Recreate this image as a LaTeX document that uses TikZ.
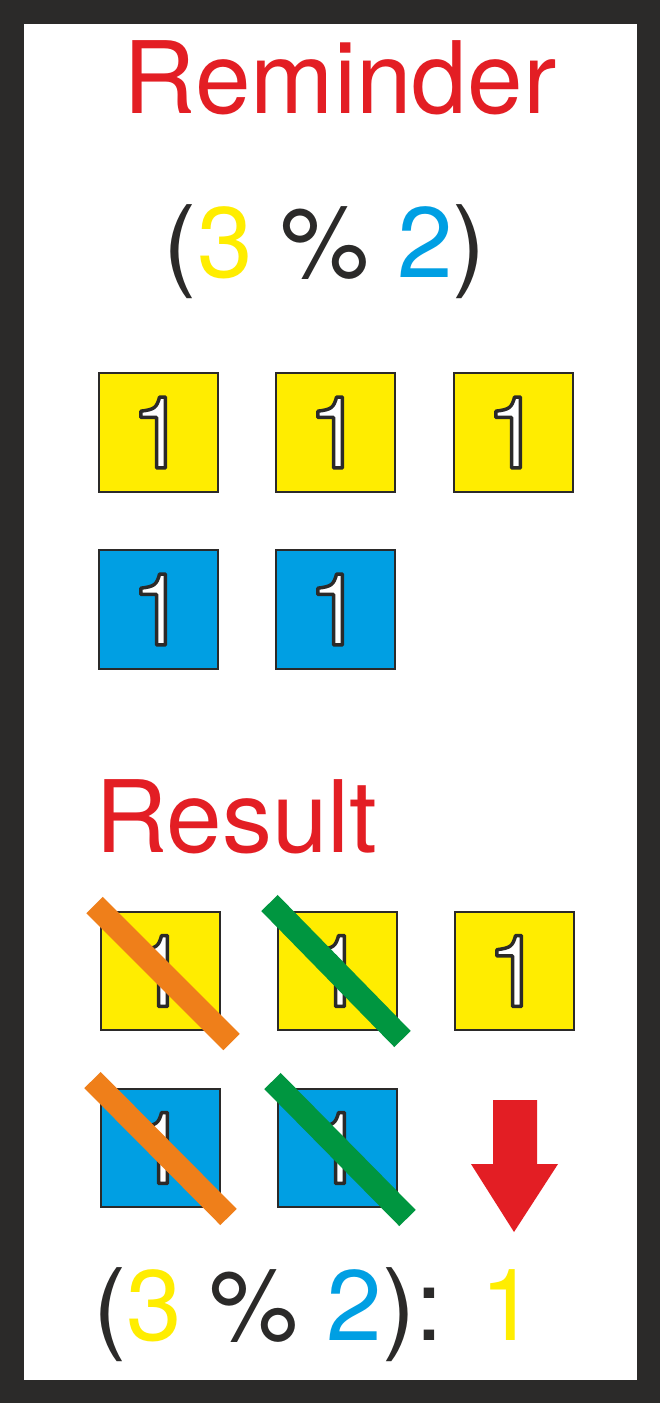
\documentclass[tikz,border=0pt]{standalone}
\usepackage{fontspec}
\setmainfont{TeX Gyre Heros}
\usepackage{tikz}
\usetikzlibrary{calc}
\definecolor{myred}{RGB}{227,30,36}
\definecolor{mydark}{RGB}{43,42,41}
\definecolor{myyellow}{RGB}{255,237,0}
\definecolor{myblue}{RGB}{0,159,227}
\definecolor{myorange}{RGB}{239,127,26}
\definecolor{mygreen}{RGB}{0,150,64}
\newcommand{\bigtext}{\fontsize{75pt}{75pt}\selectfont}
% white digit with a dark outline (text render mode 2)
\newcommand{\onedigit}{{\color{white}%
  \special{pdf:literal direct 2 Tr 2.6 w 1 j 0.169 0.165 0.161 RG}1%
  \special{pdf:literal direct 0 Tr}}}
\tikzset{
  title/.style={font=\bigtext, text=myred, inner sep=0pt},
  expr/.style={font=\bigtext, text=mydark, inner sep=0pt},
  ybox/.style={rectangle, draw=mydark, fill=myyellow, minimum size=89pt,
    inner sep=0pt, line width=1.5pt, font=\bigtext},
  bbox/.style={rectangle, draw=mydark, fill=myblue, minimum size=89pt,
    inner sep=0pt, line width=1.5pt, font=\bigtext},
  strike/.style={line width=17.25pt, line cap=butt}
}
\begin{document}
\begin{tikzpicture}[x=0.75pt, y=-0.75pt]
  % Frame
  \fill[mydark] (0,0) rectangle (660,1403);
  \fill[white] (24,24) rectangle (637,1380);

  % Heading
  \node[title, anchor=base] (head) at (340,113) {Reminder};
  \node[expr, anchor=base] (task) at (325,277)
    {(\textcolor{myyellow}{3} \% \textcolor{myblue}{2})};

  % Operands
  \node[ybox] (ry1) at (158.5,432.5) {\onedigit};
  \node[ybox] (ry2) at (335.5,432.5) {\onedigit};
  \node[ybox] (ry3) at (513.5,432.5) {\onedigit};
  \node[bbox] (rb1) at (158.5,609.5) {\onedigit};
  \node[bbox] (rb2) at (335.5,609.5) {\onedigit};

  % Result
  \node[title, anchor=base west] (res) at (95,852) {Result};
  \node[ybox] (sy1) at (160.5,971) {\onedigit};
  \node[ybox] (sy2) at (337.5,971) {\onedigit};
  \node[ybox] (sy3) at (514.5,971) {\onedigit};
  \node[bbox] (sb1) at (160.5,1148) {\onedigit};
  \node[bbox] (sb2) at (337.5,1148) {\onedigit};

  % Crossed out pairs
  \draw[strike, myorange] ($(sy1)+(-66,-66)$) -- ($(sy1)+(71,71)$);
  \draw[strike, mygreen] ($(sy2)+(-68,-68)$) -- ($(sy2)+(65,68)$);
  \draw[strike, myorange] ($(sb1)+(-68,-68)$) -- ($(sb1)+(68,69)$);
  \draw[strike, mygreen] ($(sb2)+(-65,-67)$) -- ($(sb2)+(70,70)$);

  % Arrow to the remainder
  \fill[myred] (493,1100) -- (537,1100) -- (537,1164) -- (558,1164)
    -- (514,1232) -- (471,1164) -- (493,1164) -- cycle;

  \node[expr, anchor=base west] (answer) at (93,1340)
    {(\textcolor{myyellow}{3} \% \textcolor{myblue}{2}): \textcolor{myyellow}{1}};
\end{tikzpicture}
\end{document}
